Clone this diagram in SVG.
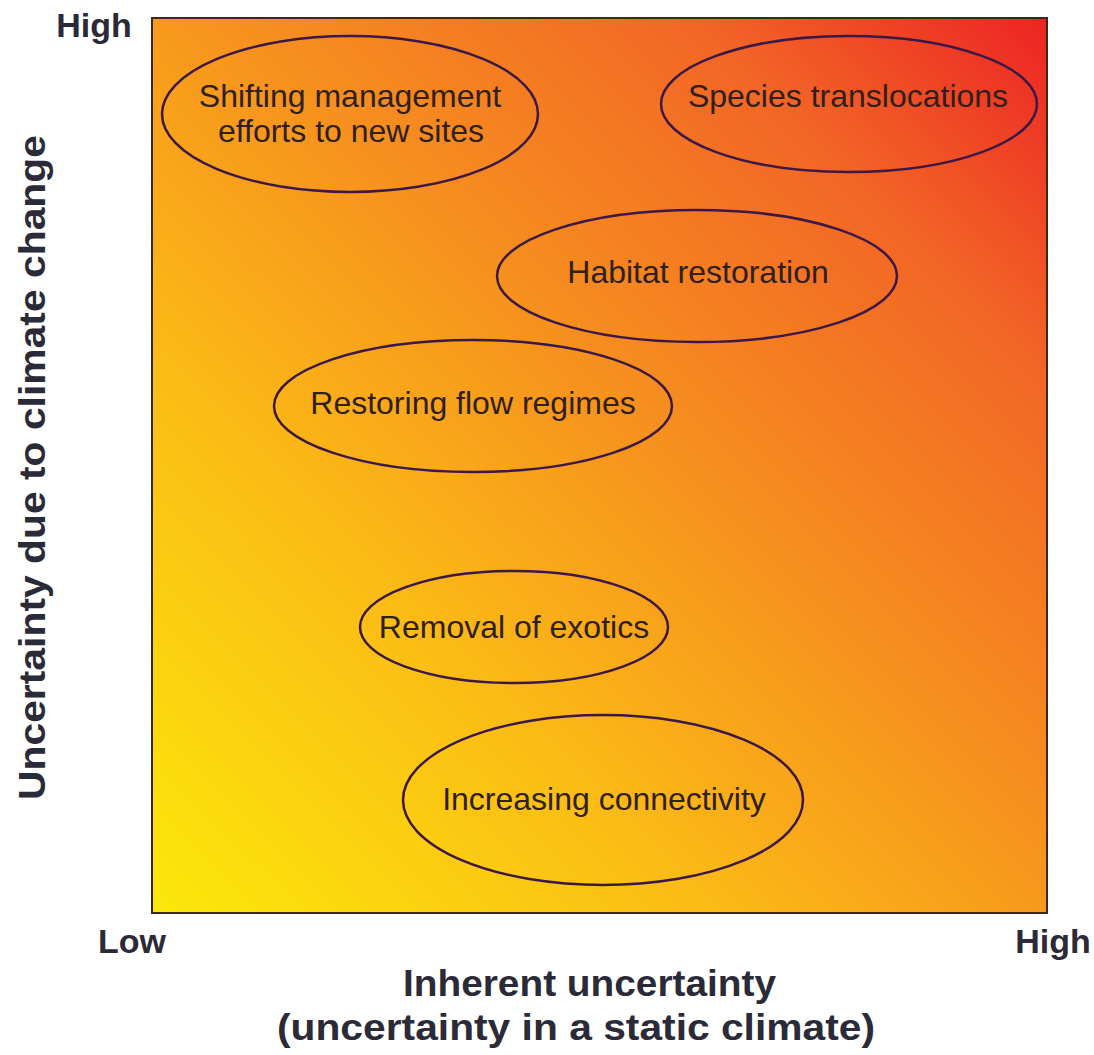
<svg xmlns="http://www.w3.org/2000/svg" width="1094" height="1055" viewBox="0 0 1094 1055">
  <defs>
    <!-- diagonal heat ramp: yellow at low/low, red at high/high -->
    <linearGradient id="heat" x1="0" y1="1" x2="1" y2="0">
      <stop offset="0" stop-color="#fbe80a"/>
      <stop offset="0.3" stop-color="#fbbd15"/>
      <stop offset="0.55" stop-color="#f6901e"/>
      <stop offset="0.8" stop-color="#f26626"/>
      <stop offset="1" stop-color="#ec2424"/>
    </linearGradient>
    <style>
      .axis { font-family: "Liberation Sans", Arial, sans-serif; font-weight: bold; fill: #2b2a38; }
      .end { font-size: 34px; }
      .title { font-size: 37px; }
      .node ellipse { fill: none; stroke: #3c1846; stroke-width: 2.5; }
      .node text { font-family: "Liberation Sans", Arial, sans-serif; font-size: 32px; fill: #30201a; text-anchor: middle; }
    </style>
  </defs>

  <rect width="1094" height="1055" fill="#ffffff"/>

  <!-- plot field -->
  <rect x="152" y="18" width="895" height="895" fill="url(#heat)" stroke="#3a2a1e" stroke-width="2"/>

  <!-- axis end labels -->
  <text class="axis end" x="94" y="37" text-anchor="middle">High</text>
  <text class="axis end" x="132" y="953" text-anchor="middle">Low</text>
  <text class="axis end" x="1053" y="953" text-anchor="middle">High</text>

  <!-- axis titles -->
  <text class="axis title" x="403" y="996" textLength="373" lengthAdjust="spacingAndGlyphs">Inherent uncertainty</text>
  <text class="axis title" x="277" y="1040" textLength="598" lengthAdjust="spacingAndGlyphs">(uncertainty in a static climate)</text>
  <text class="axis title" x="0" y="0" textLength="665" lengthAdjust="spacingAndGlyphs" transform="translate(45 800) rotate(-90)">Uncertainty due to climate change</text>

  <!-- strategies -->
  <g id="shifting-management" class="node">
    <ellipse cx="350" cy="114" rx="188" ry="78"/>
    <text x="350" y="107">Shifting management</text>
    <text x="351" y="142">efforts to new sites</text>
  </g>
  <g id="species-translocations" class="node">
    <ellipse cx="849" cy="104" rx="188" ry="68"/>
    <text x="848" y="107">Species translocations</text>
  </g>
  <g id="habitat-restoration" class="node">
    <ellipse cx="697" cy="276" rx="200" ry="66"/>
    <text x="698" y="283">Habitat restoration</text>
  </g>
  <g id="restoring-flow-regimes" class="node">
    <ellipse cx="473" cy="406" rx="199" ry="66"/>
    <text x="473" y="414">Restoring flow regimes</text>
  </g>
  <g id="removal-of-exotics" class="node">
    <ellipse cx="514" cy="627" rx="154" ry="56"/>
    <text x="514" y="638">Removal of exotics</text>
  </g>
  <g id="increasing-connectivity" class="node">
    <ellipse cx="603" cy="800" rx="200" ry="85"/>
    <text x="604" y="810">Increasing connectivity</text>
  </g>

  <g id="connectors"/>
</svg>
